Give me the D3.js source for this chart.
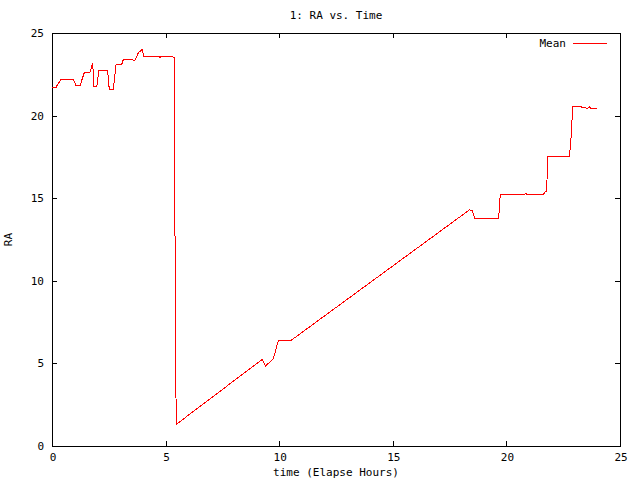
<!DOCTYPE html>
<html>
<head>
<meta charset="utf-8">
<script src="https://cdn.jsdelivr.net/npm/d3@7"></script>
<style>
  body { margin: 0; background: #fff; }
  text { font-family: "DejaVu Sans Mono", monospace; font-size: 11px; fill: #000; }
</style>
</head>
<body>
<div id="chart"></div>
<script>
// elapsed hours vs RA
const timeHours = [
  0, 0.19, 0.25, 0.41, 0.94, 1.06, 1.23, 1.35, 1.42, 1.67, 1.79, 1.85, 1.97, 2.06,
  2.45, 2.52, 2.70, 2.82, 3.07, 3.14, 3.36, 3.65, 3.80, 3.97, 4.04, 4.68, 4.75, 4.87,
  5.19, 5.38, 5.40, 5.43, 5.47, 9.26, 9.39, 9.74, 9.96, 10.51, 18.37, 18.50, 18.60,
  19.66, 19.73, 20.79, 20.85, 20.92, 21.62, 21.71, 21.77, 21.82, 22.77, 22.83, 22.92,
  23.18, 23.56, 23.65, 23.71, 24.0,
];
const raMean = [
  21.73, 21.73, 21.9, 22.2, 22.2, 21.8, 21.8, 22.3, 22.6, 22.6, 23.2, 21.75, 21.75, 22.7,
  22.7, 21.6, 21.6, 23.1, 23.1, 23.4, 23.4, 23.35, 23.8, 24.0, 23.6, 23.6, 23.53, 23.6,
  23.6, 23.53, 18.0, 6.8, 1.31, 5.25, 4.84, 5.27, 6.38, 6.38, 14.29, 14.24, 13.78,
  13.78, 15.24, 15.24, 15.27, 15.24, 15.24, 15.38, 15.38, 17.51, 17.51, 18.28, 20.56,
  20.56, 20.44, 20.54, 20.44, 20.44,
];
const xTicks = [0, 5, 10, 15, 20, 25];
const yTicks = [0, 5, 10, 15, 20, 25];

const width = 640;
const height = 480;
const margin = { top: 33, right: 20, bottom: 34, left: 52 };

const svg = d3.select('#chart').append('svg')
  .attr('width', width)
  .attr('height', height);

const x = d3.scaleLinear().domain([0, 25]).range([margin.left, width - margin.right]);
const y = d3.scaleLinear().domain([0, 25]).range([height - margin.bottom, margin.top]);

const tickLen = 5;

// axes (ticks point inward, mirrored like gnuplot)
svg.append('g')
  .attr('transform', `translate(0,${y(0)})`)
  .call(d3.axisTop(x).tickValues(xTicks).tickSize(tickLen).tickFormat(''))
  .call((g) => g.select('.domain').remove());
svg.append('g')
  .attr('transform', `translate(0,${y(25)})`)
  .call(d3.axisBottom(x).tickValues(xTicks).tickSize(tickLen).tickFormat(''))
  .call((g) => g.select('.domain').remove());
svg.append('g')
  .attr('transform', `translate(${x(0)},0)`)
  .call(d3.axisRight(y).tickValues(yTicks).tickSize(tickLen).tickFormat(''))
  .call((g) => g.select('.domain').remove());
svg.append('g')
  .attr('transform', `translate(${x(25)},0)`)
  .call(d3.axisLeft(y).tickValues(yTicks).tickSize(tickLen).tickFormat(''))
  .call((g) => g.select('.domain').remove());

svg.selectAll('.tick line').attr('stroke', '#000').attr('shape-rendering', 'crispEdges');

// tick labels
svg.append('g').selectAll('text')
  .data(xTicks)
  .join('text')
  .attr('x', (d) => x(d) + 1)
  .attr('y', y(0) + 15)
  .attr('text-anchor', 'middle')
  .text((d) => d);
svg.append('g').selectAll('text')
  .data(yTicks)
  .join('text')
  .attr('x', x(0) - 8)
  .attr('y', (d) => y(d) + 4)
  .attr('text-anchor', 'end')
  .text((d) => d);

// frame
svg.append('rect')
  .attr('x', x(0) + 0.5)
  .attr('y', y(25) + 0.5)
  .attr('width', x(25) - x(0))
  .attr('height', y(0) - y(25))
  .attr('fill', 'none')
  .attr('stroke', '#000')
  .attr('shape-rendering', 'crispEdges');

// titles
svg.append('text')
  .attr('x', (x(0) + x(25)) / 2)
  .attr('y', 19)
  .attr('text-anchor', 'middle')
  .text('1: RA vs. Time');
svg.append('text')
  .attr('x', (x(0) + x(25)) / 2)
  .attr('y', 476)
  .attr('text-anchor', 'middle')
  .text('time (Elapse Hours)');
svg.append('text')
  .attr('transform', `translate(12,${(y(0) + y(25)) / 2}) rotate(-90)`)
  .attr('text-anchor', 'middle')
  .text('RA');

// data line
const points = timeHours.map((t, i) => [t, raMean[i]]);
const line = d3.line().x((d) => x(d[0])).y((d) => y(d[1]));
svg.append('path')
  .datum(points)
  .attr('d', line)
  .attr('fill', 'none')
  .attr('stroke', '#ff0000')
  .attr('stroke-width', 1)
  .attr('shape-rendering', 'crispEdges');

// legend
svg.append('text')
  .attr('x', 566)
  .attr('y', 47)
  .attr('text-anchor', 'end')
  .text('Mean');
svg.append('line')
  .attr('x1', 573)
  .attr('x2', 607)
  .attr('y1', 43.5)
  .attr('y2', 43.5)
  .attr('stroke', '#ff0000')
  .attr('shape-rendering', 'crispEdges');
</script>
</body>
</html>
